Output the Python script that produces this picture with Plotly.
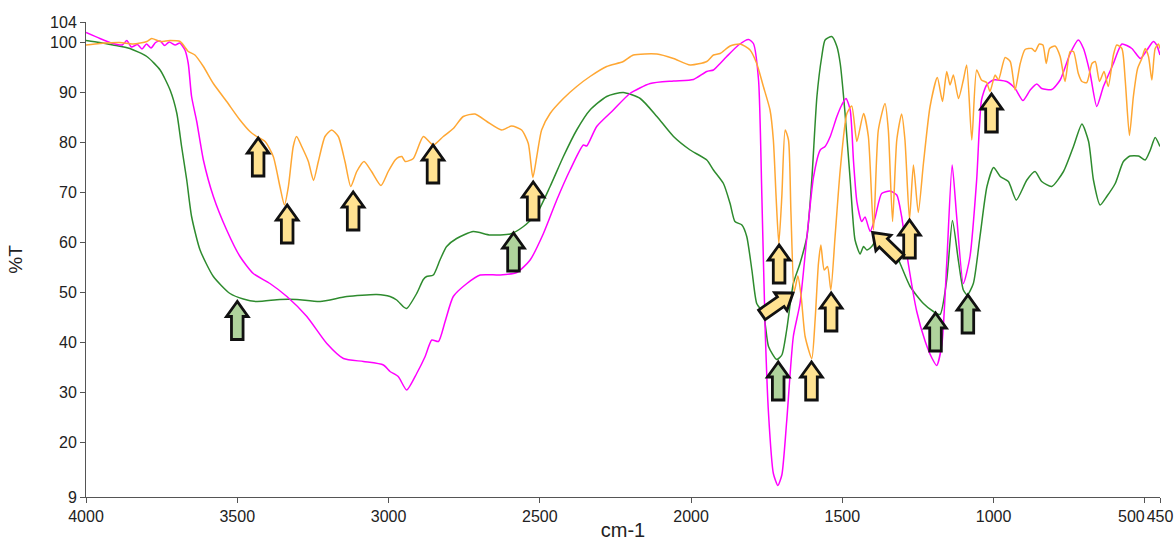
import math
import plotly.graph_objects as go

# ---- spectra: wavenumber (cm-1) and transmittance (%T) ----
green_wn = [4000, 3955, 3911, 3855, 3799, 3755, 3722, 3700, 3684, 3667, 3651, 3623, 3579, 3524,
            3480, 3436, 3359, 3303, 3226, 3138, 3039, 2995, 2973, 2950, 2940, 2907, 2885, 2874,
            2852, 2830, 2808, 2775, 2720, 2664, 2598, 2554, 2510, 2466, 2422, 2378, 2334, 2279,
            2224, 2168, 2113, 2058, 2003, 1948, 1926, 1893, 1871, 1855, 1832, 1816, 1799, 1783,
            1761, 1744, 1717, 1700, 1684, 1662, 1640, 1617, 1601, 1584, 1568, 1557, 1535, 1518,
            1507, 1491, 1474, 1458, 1441, 1430, 1419, 1403, 1375, 1342, 1309, 1276, 1232, 1199,
            1177, 1155, 1136, 1116, 1100, 1087, 1067, 1045, 1022, 1000, 978, 951, 925, 890, 863,
            841, 808, 769, 736, 708, 686, 670, 648, 626, 598, 571, 549, 521, 499, 482, 466, 450]
green_t = [100.3, 99.9, 99.4, 98.7, 97.1, 94.4, 90.4, 85.8, 79.1, 72.4, 65.1, 58.4, 53.1, 49.7,
           48.6, 48.1, 48.5, 48.5, 48.1, 49.1, 49.5, 49.1, 48.4, 47.0, 46.7, 49.7, 52.5, 53.1,
           53.4, 56.4, 59.1, 60.7, 62.1, 61.4, 61.6, 63.1, 65.7, 71.1, 77.1, 82.4, 86.4, 89.1,
           89.9, 88.7, 85.1, 81.1, 78.4, 76.4, 74.4, 71.7, 67.7, 64.1, 63.4, 61.1, 54.4, 47.7,
           45.7, 39.1, 36.5, 37.4, 42.4, 51.7, 55.7, 61.1, 72.4, 89.1, 97.1, 100.4, 101.1, 99.1,
           95.7, 85.7, 72.4, 60.4, 57.6, 59.1, 58.4, 59.1, 61.4, 60.1, 55.7, 51.1, 47.7, 46.1,
           45.5, 52.4, 64.3, 56.1, 50.4, 49.4, 51.7, 61.1, 71.1, 74.9, 73.1, 72.1, 68.4, 72.4, 74.1,
           72.1, 71.1, 74.1, 79.1, 83.6, 80.1, 72.4, 67.4, 69.1, 71.7, 76.1, 77.2, 77.2, 76.4, 78.4, 80.9, 79.1]

magenta_wn = [4000, 3954, 3910, 3880, 3865, 3850, 3830, 3815, 3800, 3785, 3770, 3755, 3740, 3725,
              3705, 3690, 3673, 3662, 3651, 3634, 3612, 3579, 3535, 3491, 3447, 3392, 3336, 3270,
              3204, 3149, 3083, 3017, 2995, 2968, 2940, 2907, 2879, 2857, 2835, 2813, 2786, 2741,
              2697, 2631, 2576, 2532, 2488, 2444, 2400, 2356, 2345, 2312, 2257, 2202, 2135, 2058,
              1992, 1948, 1926, 1904, 1882, 1843, 1810, 1794, 1777, 1766, 1755, 1744, 1728, 1713,
              1700, 1684, 1662, 1640, 1617, 1595, 1573, 1557, 1540, 1518, 1502, 1488, 1474, 1463,
              1452, 1436, 1425, 1408, 1392, 1370, 1342, 1320, 1304, 1282, 1254, 1226, 1204, 1188,
              1171, 1155, 1137, 1122, 1100, 1078, 1056, 1040, 1023, 1001, 957, 929, 903, 879, 857,
              841, 808, 780, 747, 720, 703, 681, 659, 637, 604, 576, 543, 515, 493, 472, 461, 450]
magenta_t = [101.9, 100.7, 99.7, 99.4, 100.3, 99.0, 99.5, 98.6, 99.6, 98.8, 99.9, 100.2, 99.3, 100.0,
             99.4, 99.8, 98.4, 95.7, 89.1, 84.1, 76.4, 69.1, 62.4, 57.1, 53.7, 51.7, 49.1, 45.1,
             39.7, 36.7, 36.1, 35.4, 34.1, 33.1, 30.4, 33.7, 37.1, 40.4, 40.1, 44.1, 49.1, 51.7,
             53.4, 53.4, 53.9, 56.4, 61.7, 68.4, 74.4, 79.4, 79.2, 83.1, 86.4, 89.7, 91.7, 92.2,
             92.5, 94.1, 94.4, 95.7, 97.1, 99.4, 100.5, 99.7, 92.4, 69.1, 42.4, 25.7, 13.7, 11.3,
             13.4, 24.1, 41.1, 47.7, 61.1, 73.1, 78.4, 79.1, 81.1, 85.1, 87.4, 88.7, 86.4, 76.1,
             68.1, 64.1, 65.0, 62.1, 64.8, 69.7, 70.2, 69.4, 65.1, 55.7, 46.1, 40.1, 36.8, 35.3,
             39.5, 55.7, 75.4, 65.0, 51.7, 57.1, 72.4, 88.4, 91.4, 92.4, 92.1, 90.7, 88.3, 90.4, 91.6,
             90.7, 90.5, 92.4, 97.7, 100.4, 98.7, 93.7, 87.1, 91.1, 95.7, 99.6, 98.7, 96.7, 98.4, 100.1, 99.4, 97.4]

orange_wn = [4000, 3954, 3888, 3844, 3799, 3783, 3755, 3722, 3689, 3662, 3640, 3612, 3579, 3535,
             3491, 3458, 3436, 3408, 3381, 3359, 3344, 3331, 3315, 3304, 3287, 3265, 3248, 3232,
             3210, 3188, 3166, 3144, 3125, 3105, 3081, 3056, 3025, 3001, 2978, 2965, 2956, 2945,
             2918, 2885, 2852, 2819, 2786, 2753, 2714, 2675, 2626, 2593, 2560, 2538, 2523, 2510,
             2494, 2466, 2422, 2378, 2334, 2279, 2224, 2191, 2113, 2058, 2003, 1948, 1926, 1904,
             1871, 1838, 1805, 1783, 1761, 1739, 1728, 1719, 1710, 1700, 1689, 1678, 1670, 1659,
             1647, 1636, 1623, 1601, 1590, 1579, 1571, 1560, 1549, 1538, 1524, 1507, 1485, 1469,
             1452, 1430, 1414, 1397, 1381, 1359, 1348, 1334, 1320, 1304, 1293, 1278, 1265, 1249,
             1232, 1210, 1186, 1169, 1155, 1144, 1133, 1116, 1100, 1089, 1072, 1056, 1040, 1023,
             1012, 995, 984, 962, 945, 929, 912, 896, 874, 863, 849, 837, 826, 815, 797, 780, 764,
             747, 736, 720, 708, 692, 675, 664, 650, 635, 621, 604, 593, 576, 565, 551, 538, 524,
             510, 499, 488, 477, 466, 455, 450]
orange_t = [99.4, 99.7, 99.9, 99.6, 100.1, 100.7, 100.1, 100.3, 100.1, 98.1, 97.4, 95.1, 91.7, 88.1,
            84.4, 82.1, 81.1, 80.1, 77.1, 71.1, 67.4, 71.1, 79.1, 81.1, 79.1, 76.1, 72.3, 76.1,
            81.1, 82.4, 81.1, 76.1, 71.1, 74.1, 76.1, 74.1, 71.3, 74.1, 76.4, 77.0, 77.1, 76.1,
            76.7, 81.1, 79.4, 81.1, 82.7, 85.1, 85.6, 84.1, 82.4, 83.2, 82.4, 79.7, 72.9, 77.1,
            82.4, 85.7, 88.7, 91.1, 93.1, 95.1, 96.1, 97.4, 97.6, 96.7, 95.4, 96.1, 97.4, 97.7,
            99.2, 99.6, 98.4, 95.7, 91.1, 86.4, 80.4, 69.1, 59.7, 69.1, 82.4, 80.4, 66.1, 50.1,
            53.2, 49.1, 41.1, 36.7, 44.4, 55.7, 59.4, 54.4, 55.1, 50.4, 61.1, 74.4, 85.7, 87.2,
            80.1, 85.7, 81.1, 62.4, 82.4, 87.7, 82.4, 64.1, 80.4, 85.6, 80.4, 64.5, 75.4, 65.9,
            75.7, 87.1, 92.9, 88.1, 94.1, 91.4, 93.4, 88.7, 92.4, 95.4, 80.4, 94.4, 92.4, 91.9,
            90.1, 93.4, 92.4, 96.9, 96.1, 90.4, 95.7, 98.5, 98.7, 98.1, 99.6, 99.4, 95.7, 98.7, 99.2, 97.1, 92.1,
            98.1, 98.1, 93.7, 92.1, 91.9, 95.7, 96.1, 92.1, 94.1, 91.1, 97.4, 99.4, 98.7, 92.4, 81.3, 89.1, 94.7,
            96.7, 98.7, 97.1, 92.4, 98.7, 99.6, 98.7]

# ---- marked bands: arrow tip (cm-1, %T), fill group, pointing angle (deg) ----
arrow_wn = [3431, 3335, 3117, 2853, 2522, 1709, 1537, 1602, 1278, 1007, 1663, 1400,
            3500, 2587, 1712, 1192, 1085]
arrow_t = [80.8, 67.4, 70.0, 79.4, 72.0, 59.4, 49.8, 36.0, 64.4, 89.6, 49.8, 61.9,
           48.1, 61.8, 36.0, 45.8, 49.4]
arrow_group = ["y"] * 12 + ["g"] * 5
arrow_angle = [90, 90, 90, 90, 90, 90, 90, 90, 90, 90, 35, 136,
               90, 90, 90, 90, 90]

x_ticks = [4000, 3500, 3000, 2500, 2000, 1500, 1000, 500, 450]
x_tick_text = ["4000", "3500", "3000", "2500", "2000", "1500", "1000", "", "450"]
y_ticks = [9, 20, 30, 40, 50, 60, 70, 80, 90, 100, 104]

FILL = {"y": "#FFE291", "g": "#AFD39C"}
FONT = "Liberation Sans, Arial, sans-serif"


def arrow_path(angle_deg, length=38, head=15, head_half=10.8, shaft_half=5.8):
    """Block arrow in pixels, tip at the origin, pointing along angle_deg."""
    th = math.radians(angle_deg)
    c, s = math.cos(th), math.sin(th)
    local = [(0, 0), (-head, head_half), (-head, shaft_half), (-length, shaft_half),
             (-length, -shaft_half), (-head, -shaft_half), (-head, -head_half)]
    pts = [(a * c - p * s, a * s + p * c) for a, p in local]
    return "M " + " L ".join(f"{x:.2f} {y:.2f}" for x, y in pts) + " Z"


fig = go.Figure()
for wn, t, color in [(green_wn, green_t, "#2E8B2E"),
                     (magenta_wn, magenta_t, "#FF00FF"),
                     (orange_wn, orange_t, "#FFA733")]:
    fig.add_trace(go.Scatter(x=wn, y=t, mode="lines",
                             line=dict(color=color, width=1.5, shape="spline", smoothing=0.6),
                             hoverinfo="skip", showlegend=False))

shapes = []
for wn, t, grp, ang in zip(arrow_wn, arrow_t, arrow_group, arrow_angle):
    shapes.append(dict(type="path", xref="x", yref="y",
                       xsizemode="pixel", ysizemode="pixel",
                       xanchor=wn, yanchor=t, path=arrow_path(ang),
                       fillcolor=FILL[grp], line=dict(color="#111111", width=2.8),
                       layer="above"))

fig.update_layout(
    width=1175, height=541,
    margin=dict(l=86, r=15, t=22, b=44),
    paper_bgcolor="white", plot_bgcolor="white",
    font=dict(family=FONT, size=16, color="#222222"),
    shapes=shapes,
    annotations=[dict(x=500, y=0, xref="x", yref="paper", text="500",
                      xanchor="right", yanchor="top", yshift=-9, xshift=2, showarrow=False,
                      font=dict(family=FONT, size=16, color="#222222"))],
    xaxis=dict(range=[4000, 450], tickvals=x_ticks, ticktext=x_tick_text, tickangle=0,
               showgrid=False, zeroline=False, showline=True, linecolor="#555555",
               ticks="outside", ticklen=5, tickcolor="#555555",
               title=dict(text="cm-1", font=dict(family=FONT, size=20), standoff=6),
               automargin=False),
    yaxis=dict(range=[9, 104], tickvals=y_ticks, showgrid=False, zeroline=False,
               showline=True, linecolor="#555555", ticks="outside", ticklen=5,
               tickcolor="#555555",
               title=dict(text="%T", font=dict(family=FONT, size=19), standoff=22),
               automargin=False),
)

fig.write_html("out.html")
